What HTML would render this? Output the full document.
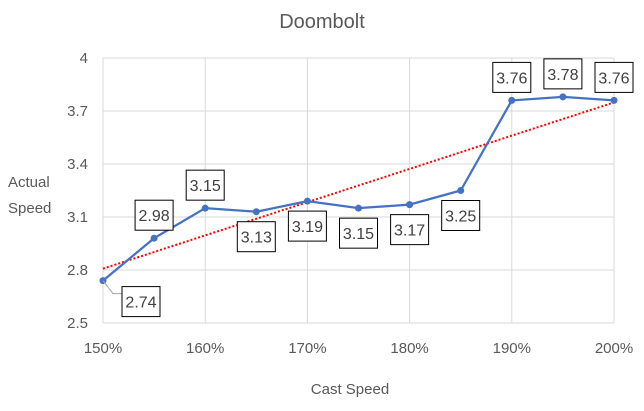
<!DOCTYPE html>
<html><head><meta charset="utf-8"><style>
html,body{margin:0;padding:0;background:#fff;}
svg{display:block;font-family:"Liberation Sans",sans-serif;}
</style></head><body>
<svg id="c" width="644" height="411">
<text x="322" y="28" text-anchor="middle" font-size="20" fill="#595959">Doombolt</text>
<text x="350" y="394" text-anchor="middle" font-size="15" fill="#595959">Cast Speed</text>
<text x="8" y="187" font-size="15" fill="#595959"><tspan x="8">Actual</tspan><tspan x="8" dy="26">Speed</tspan></text>
<g id="grid"></g><g id="ticks"></g><g id="trend"></g><g id="series"></g><g id="labels"></g>
</svg>
<script>
const categories=[150,155,160,165,170,175,180,185,190,195,200];
const values=[2.74,2.98,3.15,3.13,3.19,3.15,3.17,3.25,3.76,3.78,3.76];
const labelSide=['right','above','above','below','below','below','below','below','above','above','above'];
const xTicks=[150,160,170,180,190,200];
const yTicks=[2.5,2.8,3.1,3.4,3.7,4];
const NS='http://www.w3.org/2000/svg';
const X0=103,X1=614,Y0=323,Y1=58;
const xs=v=>X0+(v-150)/50*(X1-X0);
const ys=v=>Y0-(v-2.5)/1.5*(Y0-Y1);
function mk(tag,attrs,parent){const e=document.createElementNS(NS,tag);for(const k in attrs)e.setAttribute(k,attrs[k]);document.getElementById(parent).appendChild(e);return e;}
yTicks.forEach(t=>{
 const l=mk('line',{x1:X0,x2:X1,y1:ys(t),y2:ys(t),stroke:'#d9d9d9','stroke-width':1},'grid');
 
 
 const tx=mk('text',{x:88,y:ys(t)+5,'text-anchor':'end','font-size':15,fill:'#595959'},'ticks');
 tx.textContent=String(t);
 
 
});
xTicks.forEach(t=>{
 const l=mk('line',{x1:xs(t),x2:xs(t),y1:Y1,y2:Y0,stroke:'#d9d9d9','stroke-width':1},'grid');
 
 
 const tx=mk('text',{x:xs(t),y:353,'text-anchor':'middle','font-size':15,fill:'#595959'},'ticks');
 tx.textContent=t+'%';
 
 
});
// linear trendline
const n=categories.length;let mx=0,my=0;categories.forEach((c,i)=>{mx+=c;my+=values[i];});mx/=n;my/=n;
let sxy=0,sxx=0;categories.forEach((c,i)=>{sxy+=(c-mx)*(values[i]-my);sxx+=(c-mx)*(c-mx);});
const b=sxy/sxx,a=my-b*mx;
const tl=mk('line',{x1:xs(150),y1:ys(a+b*150),x2:xs(200),y2:ys(a+b*200),stroke:'#ff0000','stroke-width':2,'stroke-dasharray':'2,2'},'trend');


const pts=categories.map((c,i)=>xs(c)+','+ys(values[i])).join(' ');
const pl=mk('polyline',{points:pts,fill:'none',stroke:'#4472c4','stroke-width':2.25},'series');


categories.forEach((c,i)=>{
 const px=xs(c),py=ys(values[i]);
 const p=mk('circle',{cx:px,cy:py,r:3.5,fill:'#4472c4'},'series');
 
 
 const w=38,h=30;let bx=px-w/2,by;
 if(labelSide[i]==='above')by=py-8-h;
 else if(labelSide[i]==='below')by=py+10;
 else{bx=px+19;by=py+6;
  const ll=mk('polyline',{points:px+','+py+' '+(px+10)+','+(py+13)+' '+bx+','+(py+13),fill:'none',stroke:'#a6a6a6','stroke-width':1},'labels');
  
  }
 const r=mk('rect',{x:bx,y:by,width:w,height:h,fill:'#fff',stroke:'#000','stroke-width':1},'labels');
 
 
 const t=mk('text',{x:bx+w/2,y:by+h/2+6,'text-anchor':'middle','font-size':16,fill:'#404040'},'labels');
 t.textContent=values[i].toFixed(2);
 
 
});
</script>
</body></html>
